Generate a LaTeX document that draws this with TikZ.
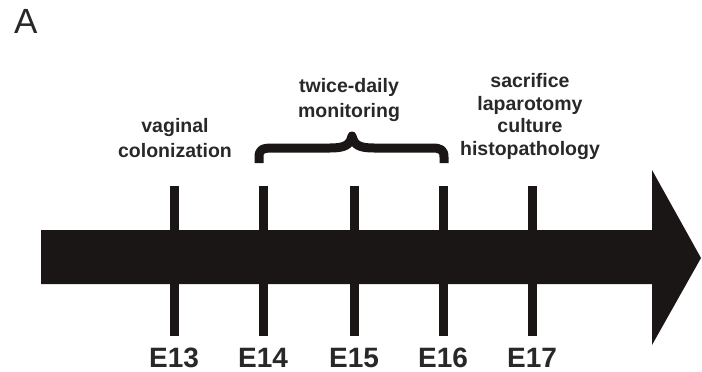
\documentclass[tikz,border=0pt]{standalone}
\usepackage{fontspec}
\setmainfont{Liberation Sans}
\definecolor{ink}{RGB}{26,22,22}
\definecolor{txt}{RGB}{40,40,40}
\begin{document}
\begin{tikzpicture}[x=1pt,y=-1pt,
  tick/.style={line width=9pt,ink},
  daylabel/.style={inner sep=0pt,anchor=base,text=txt,font=\bfseries\fontsize{28}{30}\selectfont},
  event/.style={inner sep=0pt,anchor=base,align=center,text=txt,font=\bfseries\fontsize{19.5}{24.5}\selectfont},
  bracepath/.style={line width=9pt,ink,line join=round}]
\useasboundingbox (0,0) rectangle (702,372);
% panel letter
\node[inner sep=0pt,anchor=base west,text=txt,font=\fontsize{35}{37}\selectfont] (panel) at (14,33) {A};
% timeline arrow
\fill[ink] (41,230) -- (652,230) -- (652,170) -- (701,258) -- (652,345) -- (652,284) -- (41,284) -- cycle;
% ticks and day labels
\foreach \d/\x in {13/174,14/263,15/354,16/443,17/532}{
  \coordinate (t\d top) at (\x,186);
  \coordinate (t\d bot) at (\x,336);
  \draw[tick] (t\d top) -- (t\d bot);
  \node[daylabel] (E\d) at (\x,367) {E\d};
}
% event texts (base = last line)
\node[event] (colon) at (175,157) {vaginal\\colonization};
\node[event] (monit) at (349,117) {twice-daily\\monitoring};
\node[event,font=\bfseries\fontsize{19.5}{22.5}\selectfont] (sacr) at (530,155) {sacrifice\\laparotomy\\culture\\histopathology};
% brace
\draw[bracepath] (259,163) -- (259,157) .. controls (259,150) and (262,148) .. (272,148) -- (330,148)
  .. controls (345,148) and (350,145) .. (352,136)
  .. controls (354,145) and (359,148) .. (374,148) -- (432,148)
  .. controls (441,148) and (444,150) .. (444,157) -- (444,163);
\end{tikzpicture}
\end{document}
